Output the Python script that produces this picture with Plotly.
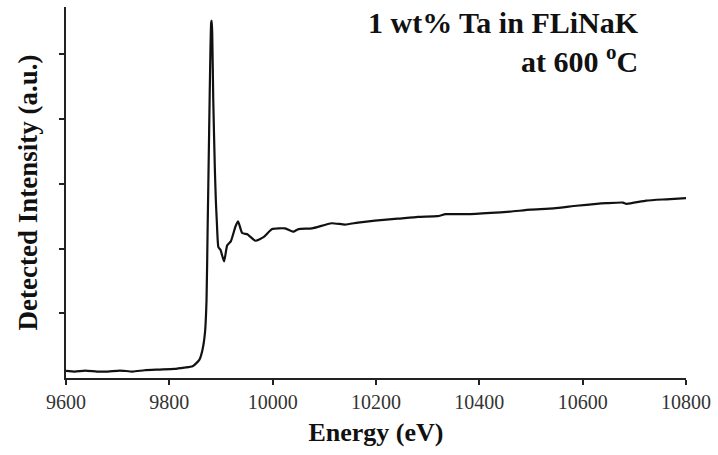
import plotly.graph_objects as go

# Ta L3-edge XANES scan: energy (eV) and detected intensity (a.u.)
energy = [
    9600, 9617, 9637, 9660, 9681, 9704, 9729, 9752, 9781, 9810, 9829, 9845,
    9858, 9864, 9869, 9872, 9874, 9877, 9879, 9881, 9882, 9883, 9885, 9888,
    9890, 9892, 9895, 9899, 9906, 9912, 9919, 9928, 9933, 9941, 9951, 9957,
    9967, 9983, 9999, 10024, 10040, 10050, 10076, 10114, 10140, 10165, 10198,
    10242, 10281, 10319, 10335, 10377, 10422, 10460, 10499, 10544, 10588,
    10627, 10646, 10678, 10685, 10723, 10762, 10803,
]
intensity = [
    0.11, 0.10, 0.115, 0.10, 0.10, 0.115, 0.10, 0.12, 0.13, 0.14, 0.16, 0.18,
    0.28, 0.43, 0.70, 1.20, 2.24, 3.79, 4.81, 5.49, 5.52, 5.33, 4.30, 3.26,
    2.75, 2.40, 2.02, 1.98, 1.80, 2.05, 2.11, 2.34, 2.42, 2.24, 2.22, 2.18,
    2.12, 2.18, 2.30, 2.31, 2.26, 2.30, 2.31, 2.39, 2.37, 2.40, 2.43,
    2.46, 2.49, 2.50, 2.53, 2.53, 2.55, 2.57, 2.60, 2.62, 2.66,
    2.69, 2.70, 2.71, 2.69, 2.74, 2.76, 2.78,
]

x_ticks = [9600, 9800, 10000, 10200, 10400, 10600, 10800]
y_ticks = [1, 2, 3, 4, 5]

serif = "Liberation Serif, Times New Roman, serif"

fig = go.Figure()
fig.add_trace(go.Scatter(
    x=energy, y=intensity, mode="lines",
    line=dict(color="#111111", width=2.2, shape="spline", smoothing=0.5),
    hoverinfo="skip",
))

fig.update_layout(
    width=718, height=455,
    margin=dict(l=66, r=28, t=7, b=77),
    paper_bgcolor="white", plot_bgcolor="white",
    showlegend=False,
    font=dict(family=serif, color="#222222"),
    xaxis=dict(
        range=[9600, 10800], tickvals=x_ticks,
        ticktext=[str(v) for v in x_ticks],
        ticks="outside", ticklen=5, tickwidth=1.5, tickcolor="#222222",
        showline=True, linecolor="#222222", linewidth=2,
        showgrid=False, zeroline=False,
        tickfont=dict(family=serif, size=20, color="#333333"),
        title=dict(text="<b>Energy (eV)</b>",
                   font=dict(family=serif, size=26, color="#111111"),
                   standoff=11),
    ),
    yaxis=dict(
        range=[0, 5.73], tickvals=y_ticks, showticklabels=False,
        ticks="outside", ticklen=5, tickwidth=1.5, tickcolor="#222222",
        showline=True, linecolor="#222222", linewidth=2,
        showgrid=False, zeroline=False,
        title=dict(text="<b>Detected Intensity (a.u.)</b>",
                   font=dict(family=serif, size=27, color="#111111"),
                   standoff=14),
    ),
    annotations=[
        dict(xref="paper", yref="paper", x=0.928, y=0.907,
             xanchor="right", yanchor="middle", align="right",
             showarrow=False,
             text="<b>1 wt% Ta in FLiNaK<br>at 600 <sup>o</sup>C</b>",
             font=dict(family=serif, size=30, color="#111111")),
    ],
)

fig.write_html("out.html")
